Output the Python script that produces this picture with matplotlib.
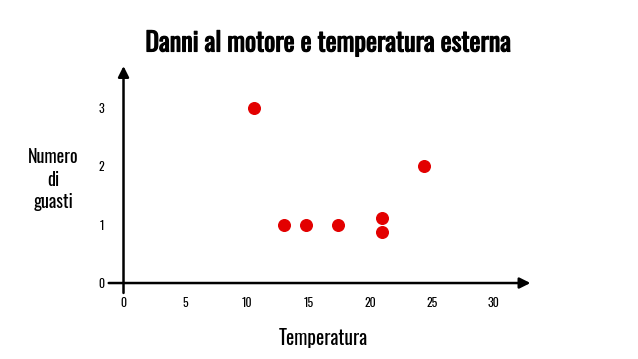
import matplotlib
matplotlib.use("Agg")
from matplotlib import pyplot as plt
from matplotlib import patheffects as pe

# data
temperatura = [10.6, 13.0, 14.8, 17.4, 21.0, 21.0, 24.4]
guasti = [3, 1, 1, 1, 1.12, 0.88, 2]
x_ticks = [0, 5, 10, 15, 20, 25, 30]
y_ticks = [0, 1, 2, 3]

font = ['Oswald', 'DejaVu Sans']
plt.rcParams['font.family'] = font

fig = plt.figure(figsize=(6.38, 3.59), dpi=100)
ax = fig.add_axes([0.1704, 0.184, 0.661, 0.632])
ax.set_xlim(-1.2, 33)
ax.set_ylim(-0.17, 3.72)

ax.scatter(temperatura, guasti, s=70, color="#e30000", zorder=3)

# arrow axes
arrow = dict(arrowstyle="-|>", lw=1.8, color="black", mutation_scale=16, shrinkA=0, shrinkB=0)
ax.annotate("", xy=(33, 0), xytext=(-1.2, 0), arrowprops=arrow)
ax.annotate("", xy=(0, 3.72), xytext=(0, -0.17), arrowprops=arrow)

for s in ax.spines.values():
    s.set_visible(False)
ax.set_xticks(x_ticks)
ax.set_yticks(y_ticks)
ax.tick_params(length=0, labelsize=8.5)
ax.tick_params(axis="x", pad=3)
ax.tick_params(axis="y", pad=3)

ax.set_xlabel("Temperatura", fontsize=14)
ax.xaxis.set_label_coords(0.508, -0.199)
ax.xaxis.label.set_va("center")
ax.set_ylabel("Numero\ndi\nguasti", fontsize=13, rotation=0,
              va="center", ha="center", linespacing=1.3)
ax.yaxis.set_label_coords(-0.132, 0.50)
title = fig.suptitle("Danni al motore e temperatura esterna", fontsize=18.8, x=0.514, y=0.915)
title.set_path_effects([pe.withStroke(linewidth=0.8, foreground="black")])

fig.savefig("out.png", dpi=100)
